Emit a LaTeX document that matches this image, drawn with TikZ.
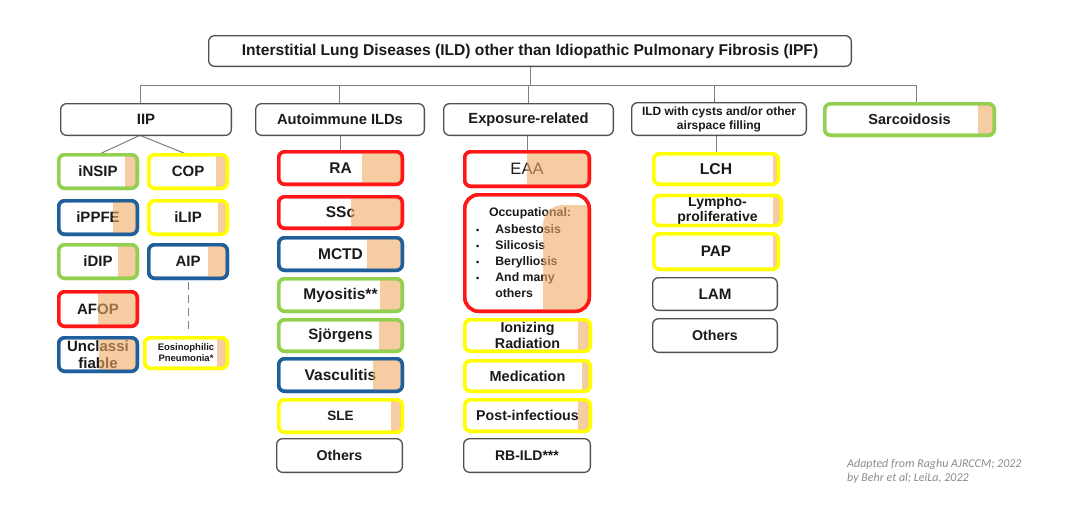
\documentclass[tikz,border=0pt]{standalone}
\usepackage{fontspec}
\setmainfont{Liberation Sans}
\newfontfamily\calfont{Carlito}
\usetikzlibrary{calc,backgrounds}
\definecolor{cred}{RGB}{255,22,22}
\definecolor{cgreen}{RGB}{146,208,80}
\definecolor{cyellow}{RGB}{255,255,0}
\definecolor{cblue}{RGB}{31,95,155}
\definecolor{cgray}{RGB}{80,80,80}
\definecolor{lgray}{RGB}{128,128,128}
\definecolor{peachc}{RGB}{240,170,100}
\definecolor{txt}{RGB}{26,26,26}
\definecolor{foot}{RGB}{140,140,140}
\newcommand\fs[1]{\fontsize{#1}{#1}\selectfont}
\tikzset{
 box/.style={rectangle, rounded corners=6pt, outer sep=0pt, inner sep=1pt, align=center, fill=white, text=txt, font=\bfseries\fs{15.5}},
 gbx/.style={box, draw=cgray, line width=1.3pt},
 cbx/.style={box, line width=3.4pt},
 conn/.style={draw=lgray, line width=1pt},
 footnote/.style={anchor=base west, inner sep=0pt, text=foot, font=\calfont\itshape\fs{12}},
}
\newcommand\cb[8][]{\node[cbx, draw=#7, minimum width={(#5-#3-3.4)*1pt}, minimum height={(#6-#4-3.4)*1pt}, #1] (#2) at ({(#3+#5)/2},{(#4+#6)/2}) {#8};}
\newcommand\gb[7][]{\node[gbx, minimum width={(#5-#3-1.3)*1pt}, minimum height={(#6-#4-1.3)*1pt}, #1] (#2) at ({(#3+#5)/2},{(#4+#6)/2}) {#7};}
\newcommand\pe[3]{%
 \begin{scope}
 \clip[rounded corners=6pt] (#1.south west) rectangle (#1.north east);
 \fill[peachc, opacity=.6] let \p1=(#1.north) in (#2pt,\y1) rectangle (#1.south east);
 \end{scope}
 \draw[#3, line width=3.4pt, rounded corners=6pt] (#1.south west) rectangle (#1.north east);}
\begin{document}
\begin{tikzpicture}[x=1pt,y=-1pt]
\useasboundingbox (0,0) rectangle (1078,512);
% level 0 / 1
\gb[font=\bfseries\fs{15.6}]{title}{208}{35}{852}{67}{Interstitial Lung Diseases (ILD) other than Idiopathic Pulmonary Fibrosis (IPF)}
\gb[font=\bfseries\fs{15}]{iip}{60}{103}{232}{136}{IIP}
\gb[font=\bfseries\fs{14.7}]{auto}{255}{103}{425}{136}{Autoimmune ILDs}
\gb[font=\bfseries\fs{14.7}]{expo}{443}{103}{614}{136}{Exposure-related}
\gb[font=\bfseries\fontsize{12}{14}\selectfont]{ildc}{631}{102}{807}{136}{ILD with cysts and/or other\\airspace filling}
\cb[font=\bfseries\fs{14.5}]{sarc}{823}{102}{996}{137}{cgreen}{Sarcoidosis}\pe{sarc}{978}{cgreen}
% IIP
\cb[font=\bfseries\fs{15}]{insip}{57}{153}{139}{190}{cgreen}{iNSIP}\pe{insip}{125}{cgreen}
\cb[font=\bfseries\fs{15}]{cop}{147}{153}{229}{190}{cyellow}{COP}\pe{cop}{216}{cyellow}
\cb[font=\bfseries\fs{15}]{ippfe}{57}{199}{139}{236}{cblue}{iPPFE}\pe{ippfe}{113}{cblue}
\cb[font=\bfseries\fs{15}]{ilip}{147}{199}{229}{236}{cyellow}{iLIP}\pe{ilip}{218}{cyellow}
\cb[font=\bfseries\fs{15}]{idip}{57}{243}{139}{280}{cgreen}{iDIP}\pe{idip}{118}{cgreen}
\cb[font=\bfseries\fs{15}]{aip}{147}{243}{229}{280}{cblue}{AIP}\pe{aip}{208}{cblue}
\cb[font=\bfseries\fs{15}]{afop}{57}{290}{139}{328}{cred}{AFOP}\pe{afop}{98}{cred}
\cb[font=\bfseries\fontsize{15}{16.5}\selectfont]{uncl}{57}{336}{139}{373}{cblue}{Unclassi\\fiable}\pe{uncl}{99}{cblue}
\cb[font=\bfseries\fontsize{9.5}{11}\selectfont]{eos}{143}{336}{229}{370}{cyellow}{Eosinophilic\\Pneumonia*}\pe{eos}{217}{cyellow}
% Autoimmune
\cb{ra}{277}{150}{404}{186}{cred}{RA}\pe{ra}{362}{cred}
\cb{ssc}{277}{195}{404}{230}{cred}{SSc}\pe{ssc}{351}{cred}
\cb{mctd}{277}{236}{404}{272}{cblue}{MCTD}\pe{mctd}{367}{cblue}
\cb{myo}{277}{277}{404}{313}{cgreen}{Myositis**}\pe{myo}{380}{cgreen}
\cb[font=\bfseries\fs{15}]{sjo}{277}{318}{404}{353}{cgreen}{Sjörgens}\pe{sjo}{379}{cgreen}
\cb{vasc}{277}{357}{404}{393}{cblue}{Vasculitis}\pe{vasc}{373}{cblue}
\cb[font=\bfseries\fs{13.5}]{sle}{277}{398}{404}{434}{cyellow}{SLE}\pe{sle}{391}{cyellow}
\gb[font=\bfseries\fs{14.2}]{oth1}{276}{438}{403}{473}{Others}
% Exposure
\cb[font=\fs{16.5}]{eaa}{463}{150}{591}{188}{cred}{EAA}\pe{eaa}{527}{cred}
\node[cbx, draw=cred, rounded corners=14pt, minimum width=124.6pt, minimum height=116.6pt] (occ) at (527,253) {};
\node[inner sep=0pt, text=txt, font=\bfseries\fs{12.3}] (occh) at (530,213) {Occupational:};
\node[anchor=north west, inner sep=0pt, align=left, text=txt, font=\bfseries\fontsize{12.3}{16}\selectfont] (occl) at (476,222)
 {\begin{tabular}{@{}l@{\hspace{16pt}}l@{}}
 {\fs{9}\textbullet} & Asbestosis\\
 {\fs{9}\textbullet} & Silicosis\\
 {\fs{9}\textbullet} & Berylliosis\\
 {\fs{9}\textbullet} & And many\\
 & others
 \end{tabular}};
\begin{scope}
 \clip[rounded corners=14pt] (occ.south west) rectangle (occ.north east);
 \fill[peachc, opacity=.6, rounded corners=20pt] (543,205) rectangle (620,340);
\end{scope}
\draw[cred, line width=3.4pt, rounded corners=14pt] (occ.south west) rectangle (occ.north east);
\cb[font=\bfseries\fontsize{14.3}{16}\selectfont]{ion}{463}{318}{592}{353}{cyellow}{Ionizing\\Radiation}\pe{ion}{578}{cyellow}
\cb[font=\bfseries\fs{14.5}]{med}{463}{359}{592}{393}{cyellow}{Medication}\pe{med}{582}{cyellow}
\cb[font=\bfseries\fs{14.2}]{post}{463}{398}{592}{433}{cyellow}{Post-infectious}\pe{post}{578}{cyellow}
\gb[font=\bfseries\fs{14}]{rbild}{463}{438}{591}{473}{RB-ILD***}
% ILD cysts
\cb[font=\bfseries\fs{15.7}]{lch}{652}{152}{780}{186}{cyellow}{LCH}\pe{lch}{773}{cyellow}
\cb[font=\bfseries\fontsize{14}{15}\selectfont]{lym}{652}{194}{783}{227}{cyellow}{Lympho-\\proliferative}\pe{lym}{773}{cyellow}
\cb[font=\bfseries\fs{15.3}]{pap}{652}{232}{780}{271}{cyellow}{PAP}\pe{pap}{773}{cyellow}
\gb[font=\bfseries\fs{15.2}]{lam}{652}{277}{778}{311}{LAM}
\gb[font=\bfseries\fs{14.2}]{oth2}{652}{318}{778}{353}{Others}
% footer
\node[footnote] (f1) at (847,467) {Adapted from Raghu AJRCCM; 2022};
\node[footnote] (f2) at (847,481) {by Behr et al; LeiLa, 2022};
% connectors
\begin{scope}[on background layer]
 \fill[white] (0,0) rectangle (1078,512);
 \coordinate (jt) at (530,85);
 \coordinate (j1) at (140,85);
 \coordinate (j2) at (339,85);
 \coordinate (j3) at (528,85);
 \coordinate (j4) at (714,85);
 \coordinate (j5) at (916,85);
 \draw[conn] (title.south -| jt) -- (jt);
 \draw[conn] (j1) -- (j5);
 \draw[conn] (j1) -- (j1 |- iip.north);
 \draw[conn] (j2) -- (j2 |- auto.north);
 \draw[conn] (j3) -- (j3 |- expo.north);
 \draw[conn] (j4) -- (j4 |- ildc.north);
 \draw[conn] (j5) -- (j5 |- sarc.north);
 \draw[conn] (iip.south -| j1) -- (insip.north);
 \draw[conn] (iip.south -| j1) -- (cop.north);
 \draw[conn] (auto.south) -- (auto.south |- ra.north);
 \draw[conn] (eaa.north |- expo.south) -- (eaa.north);
 \draw[conn] (lch.north |- ildc.south) -- (lch.north);
 \draw[conn, dash pattern=on 8pt off 5pt, shorten <=4pt, shorten >=5pt] (aip.south) -- (aip.south |- eos.north);
\end{scope}
\end{tikzpicture}
\end{document}
